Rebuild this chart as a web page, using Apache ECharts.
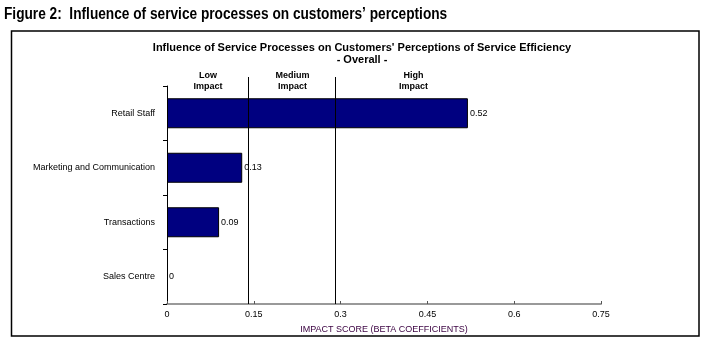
<!DOCTYPE html>
<html><head><meta charset="utf-8">
<script src="https://cdn.jsdelivr.net/npm/echarts@6/dist/echarts.min.js"></script>
<style>html,body{margin:0;padding:0;background:#fff}#c{width:708px;height:345px}</style>
</head><body><div id="c"></div>
<script>
const categories = ['Retail Staff', 'Marketing and Communication', 'Transactions', 'Sales Centre'];
const values = [0.52, 0.13, 0.09, 0];
const xTicks = [0, 0.15, 0.3, 0.45, 0.6, 0.75];
const zoneBounds = [0, 0.142, 0.292, 0.56];
const zoneNames = ['Low\nImpact', 'Medium\nImpact', 'High\nImpact'];
const zoneLines = [0.142, 0.292];

const chart = echarts.init(document.getElementById('c'), null, {renderer: 'canvas'});
const F = 'Liberation Sans, Arial, sans-serif';
const option = {
  animation: false,
  textStyle: {fontFamily: F},
  title: [
    {text: "Influence of Service Processes on Customers' Perceptions of Service Efficiency", left: 357, top: 37, textAlign: 'center',
     textStyle: {fontFamily: F, fontSize: 11, fontWeight: 'bold', color: '#000'}},
    {text: '- Overall -', left: 357, top: 49, textAlign: 'center',
     textStyle: {fontFamily: F, fontSize: 11, fontWeight: 'bold', color: '#000'}}
  ],
  graphic: [
    {type: 'text', left: 4, top: 7, scaleX: 0.855, silent: true,
     style: {text: 'Figure 2:  Influence of service processes on customers\u2019 perceptions',
       font: 'bold 16px Liberation Sans, Arial, sans-serif', fill: '#000'}},
    {type: 'rect', shape: {x: 11.5, y: 31, width: 687.5, height: 305}, style: {fill: 'none', stroke: '#000', lineWidth: 1.5}, silent: true}
  ],
  grid: [
    {left: 167, right: 107, top: 86, bottom: 41},
    {left: 167, right: 107, top: 77, bottom: 41}
  ],
  xAxis: [
    {type: 'value', gridIndex: 0, min: xTicks[0], max: xTicks[xTicks.length - 1], interval: 0.15,
     splitLine: {show: false},
     axisLine: {show: true, lineStyle: {color: '#999', width: 2}},
     axisTick: {show: true, inside: true, length: 3, lineStyle: {color: '#555'}},
     axisLabel: {fontSize: 9, color: '#000', margin: 6, formatter: v => String(+v.toFixed(2))},
     name: 'IMPACT SCORE (BETA COEFFICIENTS)', nameLocation: 'middle', nameGap: 21,
     nameTextStyle: {fontSize: 9, color: '#3a0040'}},
    {type: 'value', gridIndex: 1, min: xTicks[0], max: xTicks[xTicks.length - 1], show: false, splitLine: {show: false}}
  ],
  yAxis: [
    {type: 'category', gridIndex: 0, data: categories, inverse: true,
     axisLine: {show: true, lineStyle: {color: '#000', width: 1}},
     axisTick: {show: true, length: 4, lineStyle: {color: '#000'}},
     axisLabel: {fontSize: 9, color: '#000', margin: 12}},
    {type: 'value', gridIndex: 1, min: 0, max: 1, show: false, splitLine: {show: false}}
  ],
  series: [
    {type: 'bar', xAxisIndex: 0, yAxisIndex: 0, barWidth: 30,
     data: values.map(v => v === 0 ? {value: v, itemStyle: {borderWidth: 0}} : v),
     itemStyle: {color: '#000080', borderColor: '#000', borderWidth: 1},
     label: {show: true, position: 'right', distance: 2, fontSize: 9, color: '#000',
       formatter: p => p.value === 0 ? '0' : p.value.toFixed(2)}},
    {type: 'line', xAxisIndex: 1, yAxisIndex: 1, data: [], silent: true,
     markLine: {symbol: 'none', silent: true, label: {show: false},
       lineStyle: {color: '#000', width: 1, type: 'solid'},
       data: zoneLines.map(v => ({xAxis: v}))},
     markArea: {silent: true, itemStyle: {color: 'rgba(0,0,0,0)'},
       label: {show: true, position: 'insideTop', distance: 0, offset: [0, -7], fontSize: 9, fontWeight: 'bold', color: '#000', lineHeight: 11, fontFamily: F},
       data: zoneNames.map((n, i) => [{xAxis: zoneBounds[i], name: n}, {xAxis: zoneBounds[i + 1]}])}}
  ]
};
chart.setOption(option);
</script></body></html>
